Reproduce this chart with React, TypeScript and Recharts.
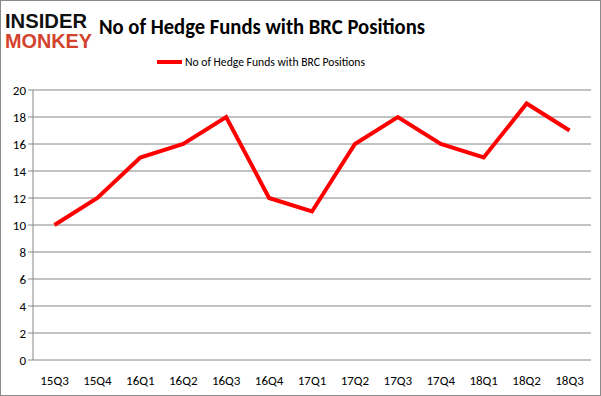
import { CartesianGrid, Line, LineChart, XAxis, YAxis } from 'recharts'

const QUARTERS = ['15Q3', '15Q4', '16Q1', '16Q2', '16Q3', '16Q4', '17Q1', '17Q2', '17Q3', '17Q4', '18Q1', '18Q2', '18Q3']
const FUNDS = [10, 12, 15, 16, 18, 12, 11, 16, 18, 16, 15, 19, 17]
const Y_TICKS = [0, 2, 4, 6, 8, 10, 12, 14, 16, 18, 20]
const BOUNDARIES = [0, 1, 2, 3, 4, 5, 6, 7, 8, 9, 10, 11, 12, 13]
const SERIES = 'No of Hedge Funds with BRC Positions'

const data = QUARTERS.map((q, i) => ({ q, funds: FUNDS[i] }))

const FONT = 'Carlito, "Liberation Sans Narrow", "Open Sans", sans-serif'

export default function App() {
  return (
    <div
      style={{
        position: 'absolute',
        left: 0,
        top: 0,
        width: 601,
        height: 396,
        boxSizing: 'border-box',
        border: '1px solid #8a8a8a',
        background: '#fff',
        fontFamily: FONT,
      }}
    >
      <svg width={601} height={80} style={{ position: 'absolute', left: -1, top: -1 }}>
        <text x={5} y={28} textLength={82} lengthAdjust="spacingAndGlyphs" fontFamily="'Liberation Sans', sans-serif" fontWeight={900} fontSize={20} fill="#111">
          INSIDER
        </text>
        <text x={5} y={48} textLength={87} lengthAdjust="spacingAndGlyphs" fontFamily="'Liberation Sans', sans-serif" fontWeight={900} fontSize={20} fill="#d2422d">
          MONKEY
        </text>
        <text x={99} y={34} textLength={326} lengthAdjust="spacingAndGlyphs" fontFamily={FONT} fontWeight={700} fontSize={23} fill="#000">
          {SERIES}
        </text>
        <line x1={157} x2={182} y1={62} y2={62} stroke="#ff0000" strokeWidth={4} />
        <text x={185} y={66} textLength={180} lengthAdjust="spacingAndGlyphs" fontFamily={FONT} fontSize={12} fill="#000">
          {SERIES}
        </text>
      </svg>
      <LineChart
        width={601}
        height={396}
        data={data}
        margin={{ top: 90, right: 10, bottom: 0, left: -1 }}
        style={{ position: 'absolute', left: -1, top: -1 }}
      >
        <CartesianGrid vertical={false} stroke="#868686" />
        <XAxis
          xAxisId="bounds"
          type="number"
          domain={[0, 13]}
          ticks={BOUNDARIES}
          tick={false}
          tickSize={5}
          tickLine={{ stroke: '#868686' }}
          axisLine={{ stroke: '#868686' }}
          height={0}
        />
        <XAxis
          dataKey="q"
          scale="band"
          interval={0}
          tickLine={false}
          axisLine={false}
          height={36}
          fontSize={13}
          fontFamily={FONT}
          tick={{ fill: '#000' }}
          tickMargin={10}
        />
        <YAxis
          domain={[0, 20]}
          ticks={Y_TICKS}
          width={34}
          tickSize={5}
          fontSize={13}
          fontFamily={FONT}
          tickLine={{ stroke: '#868686' }}
          axisLine={{ stroke: '#868686' }}
          tick={{ fill: '#000' }}
        />
        <Line
          dataKey="funds"
          stroke="#ff0000"
          strokeWidth={4}
          dot={false}
          type="linear"
          isAnimationActive={false}
        />
      </LineChart>
    </div>
  )
}
